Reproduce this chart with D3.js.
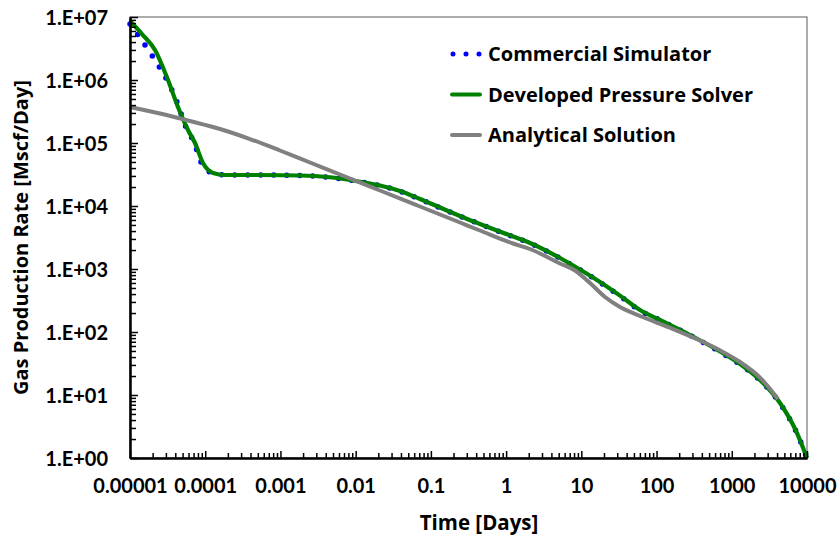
<!DOCTYPE html>
<html>
<head>
<meta charset="utf-8">
<script src="https://cdn.jsdelivr.net/npm/d3@7"></script>
<style>
  html, body { margin: 0; padding: 0; background: #fff; }
  svg { display: block; font-family: "Open Sans", Lato, sans-serif; font-weight: 700; }
</style>
</head>
<body>
<svg id="chart" width="838" height="542"></svg>
<script>
// Gas production rate (Mscf/Day) versus time (days)

// Commercial simulator results
const commercialTime = [1e-5, 1.277e-5, 2.021e-5, 2.505e-5, 3.103e-5, 4.215e-5, 5.384e-5, 7.31e-5, 8.52e-5, 1.158e-4,
  1.83e-4, 5.35e-4, 1.82e-3, 4.16e-3, 9.22e-3, 0.02106, 0.03886, 0.07166, 0.1322, 0.2438, 0.4497, 1.235, 2.078,
  5.205, 9.60, 17.71, 32.66, 60.26, 111.1, 278.4, 697.5, 1287, 2373, 4378, 7367, 10000];
const commercialRate = [7.74e6, 5.18e6, 2.318e6, 1.551e6, 1.0e6, 4.476e5, 1.931e5, 9.30e4, 5.373e4, 3.465e4,
  31050, 31050, 30400, 28700, 25300, 21000, 17200, 12800, 9400, 6880, 5150, 3250, 2560,
  1480, 970, 615, 372, 220, 153.5, 88.5, 48.4, 30.6, 17.1, 7.35, 2.46, 1.0];

// Developed pressure solver results
const solverTime = [1e-5, 1.444e-5, 2.15e-5, 3.2e-5, 4.34e-5, 5.9e-5, 7.31e-5, 9.34e-5, 1.27e-4,
  1.83e-4, 5.35e-4, 1.82e-3, 4.16e-3, 9.22e-3, 0.02106, 0.03886, 0.07166, 0.1322, 0.2438, 0.4497, 1.235, 2.078,
  5.205, 9.60, 17.71, 32.66, 60.26, 111.1, 278.4, 697.5, 1287, 2373, 4378, 7367, 10000];
const solverRate = [8.64e6, 5.37e6, 2.995e6, 1.0e6, 3.727e5, 1.608e5, 1.0e5, 4.815e4, 3.341e4,
  31050, 31050, 30490, 28860, 25400, 21160, 17300, 12910, 9467, 6939, 5179, 3280, 2586,
  1495, 982, 622, 378, 223.5, 155.1, 89.6, 49.0, 31.05, 17.30, 7.46, 2.49, 1.0];

// Analytical solution
const analyticalTime = [1e-5, 2.505e-5, 6.273e-5, 1.572e-4, 3.937e-4, 9.864e-4, 2.471e-3, 8.41e-3, 0.02106,
  0.07166, 0.2438, 0.4497, 1.235, 2.078, 5.205, 8.236, 13.04, 20.64, 32.66, 60.26, 150.9, 378.1, 697.5,
  1287, 2373, 4118];
const analyticalRate = [3.727e5, 2.94e5, 2.235e5, 1.668e5, 1.157e5, 7.603e4, 4.903e4, 2.733e4, 1.762e4,
  9818, 5471, 4084, 2540, 2077, 1223, 946.7, 599.5, 359.4, 249.4, 179.5, 117.0, 73.3, 51.2,
  33.4, 18.89, 8.64];

// Axis ticks and labels
const xTickValues = [1e-5, 1e-4, 1e-3, 1e-2, 1e-1, 1, 10, 100, 1000, 10000];
const xTickLabels = ["0.00001", "0.0001", "0.001", "0.01", "0.1", "1", "10", "100", "1000", "10000"];
const yTickValues = [1, 10, 100, 1e3, 1e4, 1e5, 1e6, 1e7];
const yTickLabels = ["1.E+00", "1.E+01", "1.E+02", "1.E+03", "1.E+04", "1.E+05", "1.E+06", "1.E+07"];

const seriesNames = ["Commercial Simulator", "Developed Pressure Solver", "Analytical Solution"];

const plot = { left: 130, right: 807, top: 17, bottom: 458 };
const tickFont = "Lato, 'Open Sans', sans-serif";
const textFont = "'Open Sans', Lato, sans-serif";
const fontSize = 20;

const svg = d3.select("#chart");

const x = d3.scaleLog().domain([1e-5, 1e4]).range([plot.left, plot.right]);
const y = d3.scaleLog().domain([1, 1e7]).range([plot.bottom, plot.top]);

// minor ticks: 2..9 within each decade
function minorTicks(lo, hi) {
  const out = [];
  for (let e = Math.round(Math.log10(lo)); e < Math.round(Math.log10(hi)); e++) {
    for (let m = 2; m <= 9; m++) out.push(m * Math.pow(10, e));
  }
  return out;
}

// plot frame
svg.append("rect")
  .attr("x", plot.left).attr("y", plot.top)
  .attr("width", plot.right - plot.left).attr("height", plot.bottom - plot.top)
  .attr("fill", "none").attr("stroke", "#808080").attr("stroke-width", 1.3);

// series
const line = d3.line()
  .x(d => x(d[0]))
  .y(d => y(d[1]))
  .curve(d3.curveMonotoneX);

const zip = (a, b) => a.map((v, i) => [v, b[i]]);

const gCurves = svg.append("g");
gCurves.append("path")
  .attr("d", line(zip(commercialTime, commercialRate)))
  .attr("fill", "none").attr("stroke", "#0000ff").attr("stroke-width", 5.5)
  .attr("stroke-linecap", "round").attr("stroke-dasharray", "0 13");
gCurves.append("path")
  .attr("d", line(zip(solverTime, solverRate)))
  .attr("fill", "none").attr("stroke", "#008000").attr("stroke-width", 4.2)
  .attr("stroke-linejoin", "round");
gCurves.append("path")
  .attr("d", line(zip(analyticalTime, analyticalRate)))
  .attr("fill", "none").attr("stroke", "#808080").attr("stroke-width", 4)
  .attr("stroke-linejoin", "round");

// axes
function styleAxis(g) {
  g.select(".domain").attr("stroke", "#000").attr("stroke-width", 2);
  g.selectAll(".tick line").attr("stroke", "#000").attr("stroke-width", 1.5);
  g.selectAll("text").attr("fill", "#000").style("font-size", fontSize + "px")
    .style("font-family", tickFont).style("font-weight", 700);
}

const xMinor = svg.append("g").attr("transform", `translate(0,${plot.bottom})`)
  .call(d3.axisBottom(x).tickValues(minorTicks(1e-5, 1e4)).tickSize(-5).tickSizeOuter(0).tickFormat(""));
styleAxis(xMinor);
const xMajor = svg.append("g").attr("transform", `translate(0,${plot.bottom})`)
  .call(d3.axisBottom(x).tickValues(xTickValues).tickSize(-7).tickSizeOuter(0)
    .tickFormat((d, i) => xTickLabels[i]));
styleAxis(xMajor);
xMajor.selectAll("text").attr("y", 35).attr("dy", null);

const yMinor = svg.append("g").attr("transform", `translate(${plot.left},0)`)
  .call(d3.axisLeft(y).tickValues(minorTicks(1, 1e7)).tickSize(-6).tickSizeOuter(0).tickFormat(""));
styleAxis(yMinor);
const yMajor = svg.append("g").attr("transform", `translate(${plot.left},0)`)
  .call(d3.axisLeft(y).tickValues(yTickValues).tickSize(-8).tickSizeOuter(0)
    .tickFormat((d, i) => yTickLabels[i]));
styleAxis(yMajor);
yMajor.selectAll("text").attr("x", -22).attr("dy", "0.35em");

// axis titles
svg.append("text")
  .attr("x", 479).attr("y", 530)
  .attr("text-anchor", "middle")
  .style("font-size", "20.5px").style("font-family", textFont)
  .text("Time [Days]");
svg.append("text")
  .attr("transform", `translate(28,${(plot.top + plot.bottom) / 2}) rotate(-90)`)
  .attr("text-anchor", "middle")
  .style("font-size", fontSize + "px").style("font-family", textFont)
  .text("Gas Production Rate [Mscf/Day]");

// legend
const legend = svg.append("g");
const legendRows = [54, 94.5, 135];
const legendStyles = [
  { stroke: "#0000ff", width: 5, dash: "0 13", x1: 453, x2: 479.5 },
  { stroke: "#008000", width: 4, dash: null, x1: 452, x2: 480 },
  { stroke: "#808080", width: 4, dash: null, x1: 452, x2: 480 }
];
seriesNames.forEach((name, i) => {
  const s = legendStyles[i];
  legend.append("line")
    .attr("x1", s.x1).attr("x2", s.x2).attr("y1", legendRows[i]).attr("y2", legendRows[i])
    .attr("stroke", s.stroke).attr("stroke-width", s.width)
    .attr("stroke-linecap", "round").attr("stroke-dasharray", s.dash);
  legend.append("text")
    .attr("x", 488).attr("y", legendRows[i]).attr("dy", "0.35em")
    .style("font-size", fontSize + "px").style("font-family", textFont)
    .text(name);
});
</script>
</body>
</html>
